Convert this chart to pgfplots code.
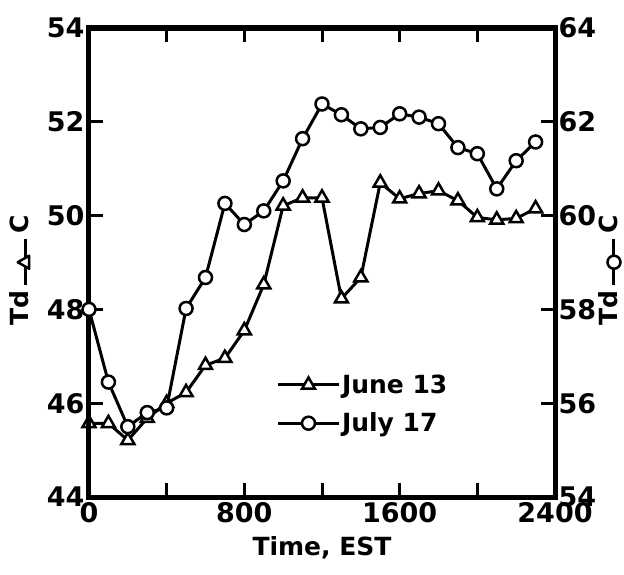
\documentclass[border=0pt]{standalone}
\usepackage{pgfplots}
\pgfplotsset{compat=1.18}
\usepackage{fontspec}
\setmainfont{DejaVu Sans}
\newcommand{\tkfont}{\fontsize{27}{27}\selectfont\bfseries}
\newcommand{\lbfont}{\fontsize{25}{25}\selectfont\bfseries}
\newsavebox\triSym
\newsavebox\cirSym
\sbox\triSym{\tikz[baseline=-0.6ex]{\draw[line width=3pt] (0pt,0pt)--(46pt,0pt); \draw[line width=2.5pt, fill=white, line join=round] (23pt,7.5pt)--(16.5pt,-4pt)--(29.5pt,-4pt)--cycle;}}
\sbox\cirSym{\tikz[baseline=-0.6ex]{\draw[line width=3pt] (0pt,0pt)--(46pt,0pt); \draw[line width=2.5pt, fill=white] (23pt,0pt) circle (6.5pt);}}
\begin{document}
\begin{tikzpicture}
\path[use as bounding box] (-89pt,-77pt) rectangle (535pt,497pt);
\begin{axis}[
  at={(0pt,0pt)}, anchor=south west,
  scale only axis, width=466pt, height=469pt,
  xmin=0, xmax=2400, ymin=44, ymax=54,
  xtick={0,400,...,2400},
  xticklabels={0,,800,,1600,,2400},
  ytick={44,46,...,54},
  xtick pos=both, xticklabel pos=lower,
  ytick pos=left,
  tick align=inside,
  major tick length=14pt,
  every tick/.style={black, line width=3pt},
  axis line style={line width=5pt},
  /pgf/number format/assume math mode=true,
  tick label style={font=\tkfont},
  xticklabel style={yshift=-2pt},
  yticklabel style={xshift=-1pt},
  clip=false,
  xlabel={Time, EST},
  every axis x label/.style={at={(axis description cs:0.5,0)}, anchor=center, yshift=-51pt, font=\lbfont},
  ylabel={Td\,\usebox\triSym\,C},
  every axis y label/.style={at={(axis description cs:0,0.5)}, xshift=-69pt, yshift=-8pt, anchor=center, rotate=90, font=\lbfont},
]
\addplot[black, line width=3pt, mark=triangle*, mark size=7.5pt, mark options={fill=white, line width=2.5pt}] coordinates {
(0,45.57) (100,45.57) (200,45.21) (300,45.68) (400,46.0) (500,46.23)
(600,46.81) (700,46.96) (800,47.55) (900,48.53) (1000,50.21) (1100,50.38)
(1200,50.38) (1300,48.23) (1400,48.68) (1500,50.70) (1600,50.36) (1700,50.47)
(1800,50.53) (1900,50.32) (2000,49.96) (2100,49.91) (2200,49.94) (2300,50.15)
};
\end{axis}
\begin{axis}[
  at={(0pt,0pt)}, anchor=south west,
  scale only axis, width=466pt, height=469pt,
  xmin=0, xmax=2400, ymin=54, ymax=64,
  hide x axis,
  ytick={54,56,...,64},
  ytick pos=right, yticklabel pos=right,
  tick align=inside,
  major tick length=14pt,
  every tick/.style={black, line width=3pt},
  axis line style={line width=5pt},
  /pgf/number format/assume math mode=true,
  tick label style={font=\tkfont},
  clip=false,
  ylabel={Td\,\usebox\cirSym\,C},
  every axis y label/.style={at={(axis description cs:1,0.5)}, xshift=55pt, yshift=-8pt, anchor=center, rotate=90, font=\lbfont},
  legend style={at={(rel axis cs:0.403,0.265)}, anchor=north west, draw=none, fill=none, font=\lbfont, row sep=14pt, inner sep=0pt, cells={anchor=west}},
  legend image code/.code={\draw[line width=3pt] (0pt,0pt)--(60pt,0pt); \draw[line width=3pt, mark repeat=2,mark phase=2] plot coordinates {(0pt,0pt)(30pt,0pt)(60pt,0pt)};},
]
\addlegendimage{black, line width=3pt, mark=triangle*, mark size=7.5pt, mark options={fill=white, line width=2.5pt}}
\addlegendentry{June 13}
\addplot[black, line width=3pt, mark=*, mark size=6.5pt, mark options={fill=white, line width=2.5pt}] coordinates {
(0,58.0) (100,56.45) (200,55.5) (300,55.8) (400,55.9) (500,58.02)
(600,58.68) (700,60.26) (800,59.81) (900,60.1) (1000,60.74) (1100,61.64)
(1200,62.38) (1300,62.15) (1400,61.85) (1500,61.88) (1600,62.17) (1700,62.1)
(1800,61.96) (1900,61.45) (2000,61.32) (2100,60.57) (2200,61.17) (2300,61.57)
};
\addlegendentry{July 17}
\end{axis}
\end{tikzpicture}
\end{document}
